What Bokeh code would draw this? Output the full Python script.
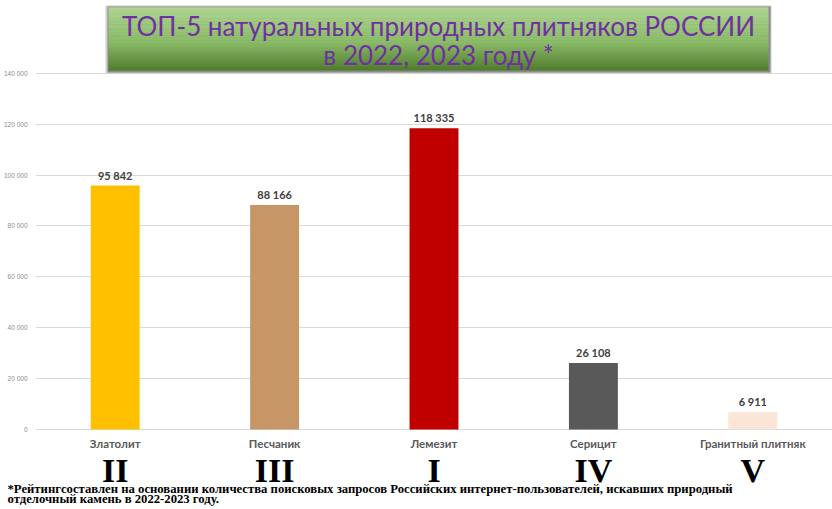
from bokeh.plotting import figure
from bokeh.models import FactorRange, Range1d, FixedTicker, ColumnDataSource, LabelSet
from bokeh.layouts import column
from bokeh.embed import file_html
from bokeh.resources import INLINE
from bokeh.core.properties import value

# ---------------- data ----------------
categories = ["Златолит", "Песчаник", "Лемезит", "Серицит", "Гранитный плитняк"]
searches = [95842, 88166, 118335, 26108, 6911]
ranks = ["II", "III", "I", "IV", "V"]
bar_colors = ["#FFC000", "#C69667", "#C00000", "#595959", "#FBE5D6"]
y_ticks = [0, 20000, 40000, 60000, 80000, 100000, 120000, 140000]
y_tick_labels = ["0", "20 000", "40 000", "60 000", "80 000", "100 000", "120 000", "140 000"]
title_lines = ["ТОП-5 натуральных природных плитняков РОССИИ", "в 2022, 2023 году *"]
footnote_lines = [
    "*Рейтингсоставлен на основании количества поисковых запросов Российских интернет-пользователей, искавших природный",
    "отделочный камень в 2022-2023 году.",
]

value_labels = [f"{v:,}".replace(",", " ") for v in searches]

# ---------------- layout constants ----------------
W = 832
H1, H2 = 452, 57          # main chart / ranks + footnote strip
BL, BB = 35, 21
FW, FH = W - BL, H1 - BB
N = len(categories)
UNIT = FW / N             # pixels per category slot
Y0, Y1 = -786, 168566


def px_x(px):
    # main-frame pixel (from frame left) -> synthetic categorical coordinate
    return px / UNIT


# ---------------- main figure ----------------
p = figure(width=W, height=H1,
           x_range=FactorRange(factors=categories, range_padding=0),
           y_range=Range1d(Y0, Y1),
           output_backend="svg", toolbar_location=None,
           min_border_left=BL, min_border_right=0, min_border_top=0, min_border_bottom=BB)
p.outline_line_color = None
p.background_fill_color = "white"
p.border_fill_color = "white"
p.extra_y_ranges = {"box": Range1d(0, FH)}

src = ColumnDataSource(dict(cat=categories, val=searches, col=bar_colors, lab=value_labels))
p.vbar(x="cat", top="val", width=0.307, fill_color="col", line_color=None, source=src)

p.add_layout(LabelSet(x="cat", y="val", text="lab", source=src, y_offset=6,
                      text_align="center", text_baseline="alphabetic",
                      text_font=value("Lato"), text_font_style="bold",
                      text_font_size="11px", text_color="#404040"))

# y axis
p.yaxis.ticker = FixedTicker(ticks=y_ticks)
p.yaxis.major_label_overrides = dict(zip(y_ticks, y_tick_labels))
p.yaxis.axis_line_color = None
p.yaxis.major_tick_line_color = None
p.yaxis.minor_tick_line_color = None
p.yaxis.major_tick_out = 0
p.yaxis.major_tick_in = 0
p.yaxis.minor_tick_out = 0
p.yaxis.major_label_text_font = "Liberation Sans"
p.yaxis.major_label_text_font_size = "6.5px"
p.yaxis.major_label_text_color = "#8c8c8c"
p.yaxis.major_label_standoff = 8

p.ygrid.ticker = FixedTicker(ticks=y_ticks)
p.ygrid.grid_line_color = "#d9d9d9"
p.xgrid.grid_line_color = None

# x axis (categories)
p.xaxis.axis_line_color = None
p.xaxis.major_tick_line_color = None
p.xaxis.minor_tick_line_color = None
p.xaxis.major_tick_out = 0
p.xaxis.major_tick_in = 0
p.xaxis.major_label_text_font = "Lato"
p.xaxis.major_label_text_font_style = "bold"
p.xaxis.major_label_text_font_size = "11.5px"
p.xaxis.major_label_text_color = "#595959"
p.xaxis.major_label_standoff = 5

# header box: shadow + vertical gradient
bx0, bx1 = 73, 733
by0, by1 = 361, 424
p.quad(left=px_x(bx0 - 3), right=px_x(bx1 + 3), bottom=by0 - 3, top=by1 + 2, fill_color="#cfcfcf",
       line_color=None, y_range_name="box")
p.quad(left=px_x(bx0 - 1), right=px_x(bx1 + 2), bottom=by0 - 2, top=by1 + 1, fill_color="#8a8a8a",
       line_color=None, y_range_name="box")

stops = [(0.0, (0x4E, 0x7C, 0x2B)), (0.45, (0x8A, 0xBC, 0x66)), (1.0, (0xAE, 0xD5, 0x92))]


def grad(t):
    for (t0, c0), (t1, c1) in zip(stops[:-1], stops[1:]):
        if t <= t1:
            f = (t - t0) / (t1 - t0)
            return "#%02x%02x%02x" % tuple(int(round(a + (b - a) * f)) for a, b in zip(c0, c1))
    return "#%02x%02x%02x" % stops[-1][1]


n = 40
h = (by1 - by0) / n
bots = [by0 + i * h for i in range(n)]
tops = [b + h + 0.3 for b in bots]
cols = [grad((i + 0.5) / n) for i in range(n)]
p.quad(left=px_x(bx0), right=px_x(bx1), bottom=bots, top=tops, fill_color=cols, line_color=None,
       y_range_name="box")

cx = px_x((bx0 + bx1) / 2)
p.text(x=[cx, cx], y=[406, 377], text=title_lines, text_align="center",
       text_baseline="alphabetic", text_font=value("Lato"), text_font_size="26px",
       text_color="#7030A0", y_range_name="box")

# ---------------- ranks + footnote strip ----------------
p2 = figure(width=W, height=H2,
            x_axis_location=None, y_axis_location=None,
            output_backend="svg", toolbar_location=None,
            min_border_left=0, min_border_right=0, min_border_top=0, min_border_bottom=0)

unaligned = "frame_align" in p2.properties()
if unaligned:
    p.frame_align = False
    p2.frame_align = False
    x2_start = -BL / UNIT          # strip frame spans the full width
else:
    x2_start = 0.0                 # strip frame aligned with main frame
p2.x_range = Range1d(x2_start, N)
p2.y_range = Range1d(0, H2)
p2.grid.visible = False
p2.outline_line_color = None
p2.background_fill_color = "white"
p2.border_fill_color = "white"

rank_x = [i + 0.5 for i, _ in enumerate(categories)]
p2.text(x=rank_x, y=[39] * N, text=ranks, text_align="center", text_baseline="alphabetic",
        text_font=value("Liberation Serif"), text_font_style="bold", text_font_size="34px",
        text_color="black")

foot_x = (-BL / UNIT) + 7 / UNIT if unaligned else 0.02
p2.text(x=[foot_x, foot_x], y=[21, 11], text=footnote_lines, text_align="left",
        text_baseline="alphabetic", text_font=value("Liberation Serif"), text_font_style="bold",
        text_font_size="12.7px", text_color="black")

layout = column(p, p2, spacing=0)
open("out.html", "w").write(file_html(layout, INLINE))
